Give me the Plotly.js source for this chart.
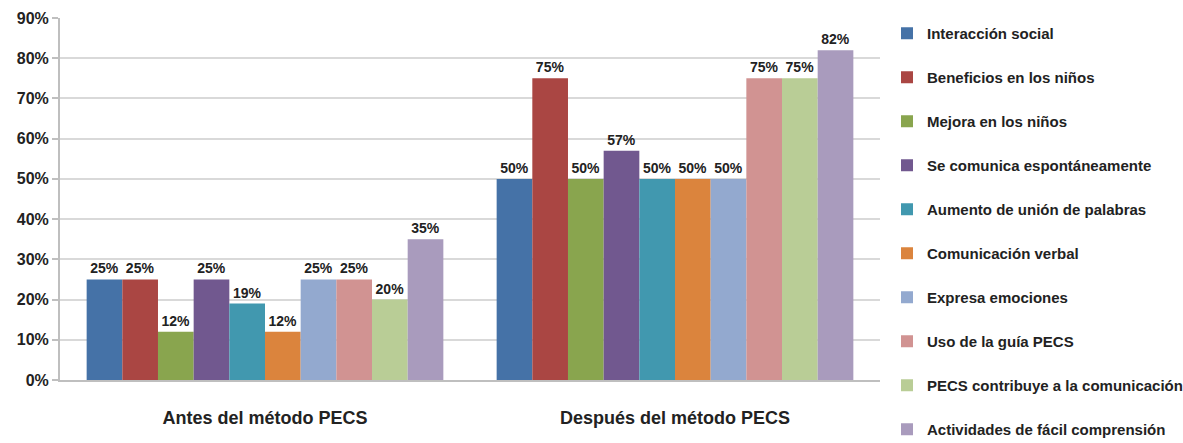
<!DOCTYPE html>
<html>
<head>
<meta charset="utf-8">
<script src="https://cdn.plot.ly/plotly-3.0.1.min.js"></script>
<style>html,body{margin:0;padding:0;background:#fff;}#chart{width:1183px;height:443px;}</style>
</head>
<body>
<div id="chart"></div>
<script>
const categories = ["Antes del método PECS", "Después del método PECS"];
const seriesNames = [
  "Interacción social",
  "Beneficios en los niños",
  "Mejora en los niños",
  "Se comunica espontáneamente",
  "Aumento de unión de palabras",
  "Comunicación verbal",
  "Expresa emociones",
  "Uso de la guía PECS",
  "PECS contribuye a la comunicación",
  "Actividades de fácil comprensión"
];
const antes   = [0.25, 0.25, 0.12, 0.25, 0.19, 0.12, 0.25, 0.25, 0.20, 0.35];
const despues = [0.50, 0.75, 0.50, 0.57, 0.50, 0.50, 0.50, 0.75, 0.75, 0.82];
const colors = ["#4572A7", "#AA4643", "#89A54E", "#71588F", "#4198AF",
                "#DB843D", "#93A9CF", "#D19392", "#B9CD96", "#A99BBD"];
const yTicks = [0, 0.1, 0.2, 0.3, 0.4, 0.5, 0.6, 0.7, 0.8, 0.9];

const FONT = "'Liberation Sans', Arial, sans-serif";

const traces = seriesNames.map((name, i) => ({
  type: "bar",
  name: name,
  legendgroup: "g" + i,
  x: categories,
  y: [antes[i], despues[i]],
  marker: { color: colors[i] },
  text: [antes[i], despues[i]].map(v => Math.round(v * 100) + "%"),
  textposition: "outside",
  cliponaxis: false,
  textfont: { family: FONT, size: 14, color: "#222", weight: "bold" },
  hoverinfo: "name+y"
}));

const layout = {
  width: 1183,
  height: 443,
  margin: { l: 60, r: 303, t: 18, b: 63 },
  paper_bgcolor: "#fff",
  plot_bgcolor: "#fff",
  barmode: "group",
  bargap: 0.13,
  bargroupgap: 0,
  showlegend: true,
  legend: {
    xref: "container", yref: "container",
    x: 887 / 1183, y: 1 - 17 / 443,
    xanchor: "left", yanchor: "top",
    traceorder: "grouped",
    tracegroupgap: 21.5,
    itemwidth: 30,
    maxheight: 443,
    font: { family: FONT, size: 15, color: "#222", weight: "bold" },
    bgcolor: "rgba(0,0,0,0)"
  },
  xaxis: {
    type: "category",
    range: [-0.5, 1.5],
    showline: true, linecolor: "#bfbfbf", linewidth: 2,
    showgrid: false, ticks: "",
    tickfont: { family: FONT, size: 18, color: "#222", weight: "bold" },
    ticklabelstandoff: 20
  },
  yaxis: {
    range: [0, 0.9],
    tickvals: yTicks,
    tickformat: ".0%",
    showgrid: true, gridcolor: "#d9d9d9", gridwidth: 2,
    showline: true, linecolor: "#bfbfbf", linewidth: 2,
    ticks: "outside", ticklen: 6, tickcolor: "#bfbfbf", tickwidth: 2,
    zeroline: false,
    tickfont: { family: FONT, size: 16, color: "#222", weight: "bold" }
  }
};

Plotly.newPlot("chart", traces, layout, { displayModeBar: false, staticPlot: true });
</script>
</body>
</html>
